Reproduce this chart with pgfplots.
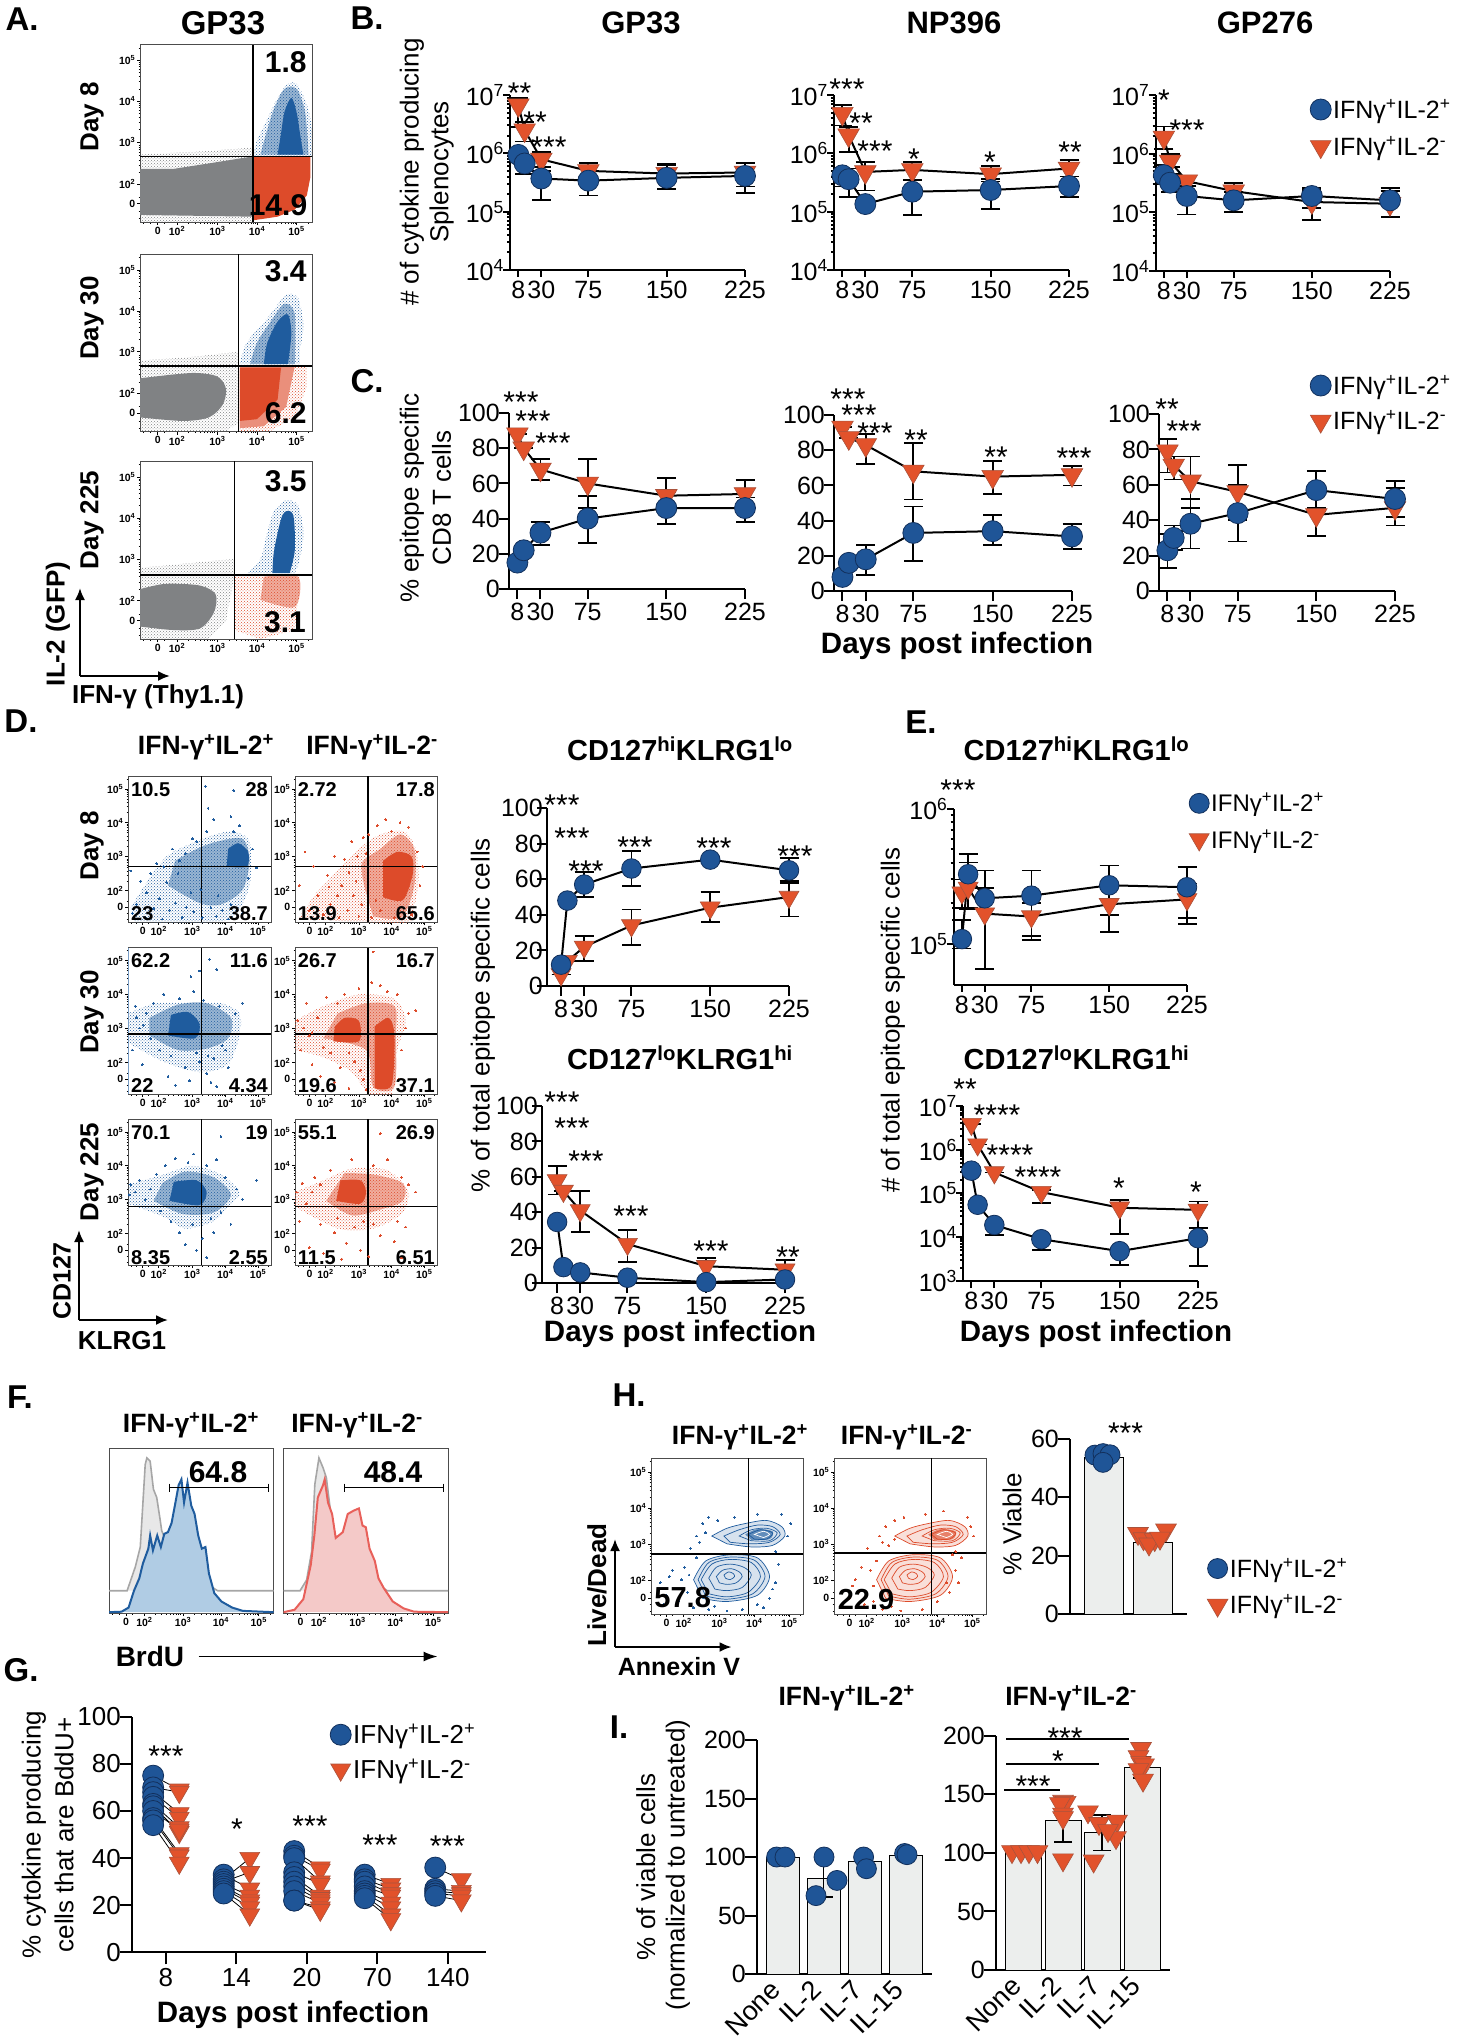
\documentclass[border=0pt]{standalone}
\usepackage{pgfplots}
\usepackage{pgfplotstable}
\usepackage{fontspec}
\pgfplotsset{compat=1.18}
\usetikzlibrary{patterns,arrows.meta}
\setmainfont{Liberation Sans}
\definecolor{bl}{HTML}{1F5597}
\definecolor{bld}{HTML}{12305C}
\definecolor{rd}{HTML}{E2522B}
\definecolor{rdd}{HTML}{A9523C}
\definecolor{fb}{HTML}{1F5C9E}
\definecolor{fr}{HTML}{DD4B2A}
\definecolor{fg}{HTML}{808284}
\definecolor{barf}{HTML}{ECEEED}
\definecolor{hb}{HTML}{B0CCE4}
\definecolor{hr}{HTML}{F4C9C8}
\definecolor{hrl}{HTML}{E8605A}
\newcommand\fs[1]{\fontsize{#1}{#1}\selectfont}
\pgfplotsset{
  box/.style n args={4}{at={(#1pt,-#4pt)},anchor=south west,scale only axis,
    width={(#3-#1)*1pt},height={(#4-#2)*1pt}},
  bm/.style={mark=*,mark size=#1pt,mark options={fill=bl,draw=bld,line width=.8pt,solid}},
  rm/.style={mark=triangle*,mark size=#1pt,mark options={rotate=180,fill=rd,draw=rdd,line width=.6pt,solid}},
  prism/.style={clip=false,axis x line*=bottom,axis y line*=left,axis line style={-,line width=2pt},
    tick style={line width=2pt,black},tick align=outside,major tick length=10pt,minor tick length=4pt,
    tick label style={font=\fs{25},inner sep=1pt},xticklabel style={yshift=-3pt},yticklabel style={xshift=2pt},
    /pgf/number format/assume math mode=true,xtick pos=bottom,ytick pos=left},
  dayx/.style={prism,xmax=225,xtick={8,30,75,150,225}},
  pct/.style={dayx,ymin=0,ymax=100,ytick={0,20,40,60,80,100}},
  logb/.style={dayx,ymin=1e4,ymax=1e7,ytick={1e4,1e5,1e6,1e7},
    yticklabels={10\textsuperscript{4},10\textsuperscript{5},10\textsuperscript{6},10\textsuperscript{7}},
    major tick length=7pt,minor tick length=3pt},
  flow/.style={xmin=0,xmax=100,ymin=0,ymax=100,axis line style={line width=.9pt,black!70},
    tick align=outside,major tick length=3pt,minor tick length=1.5pt,tick style={line width=.6pt,black},
    xtick pos=bottom,ytick pos=left,
    xtick={10.3,21.5,45,68,91},ytick={10.3,21.5,45,68,91},
    xticklabels={0,10\textsuperscript{2},10\textsuperscript{3},10\textsuperscript{4},10\textsuperscript{5}},
    yticklabels={0,10\textsuperscript{2},10\textsuperscript{3},10\textsuperscript{4},10\textsuperscript{5}},
    minor xtick={2,6,14,28,32,35,37.3,39.1,40.7,42,43.2,52,56,59,61.3,63.1,64.7,66,67,75,79.1,82,84.3,86.1,87.7,89,90,98},
    minor ytick={2,6,14,28,32,35,37.3,39.1,40.7,42,43.2,52,56,59,61.3,63.1,64.7,66,67,75,79.1,82,84.3,86.1,87.7,89,90,98},
    tick label style={font=\bfseries\fs{10.5},inner sep=1.5pt}},
  bars/.style={prism,xmin=0,ymin=0,major x tick style={draw=none}},
  rotx/.style={xticklabel style={rotate=45,anchor=north east,yshift=18pt,xshift=-1pt,font=\fs{27}}},
}
% scatter density layers: sparse stipple, textured middle, solid core, plain polygon, single dots
\newcommand\bS[2]{\addplot[smooth,pattern=crosshatch dots,pattern color=#1,draw=none] coordinates {#2} -- cycle;}
\newcommand\bM[2]{\addplot[smooth,fill=#1!45!white,draw=none] coordinates {#2} -- cycle;
  \addplot[smooth,pattern=crosshatch dots,pattern color=#1,draw=none] coordinates {#2} -- cycle;}
\newcommand\bC[2]{\addplot[smooth,fill=#1,draw=none] coordinates {#2} -- cycle;}
\newcommand\bP[2]{\addplot[fill=#1,draw=none] coordinates {#2} -- cycle;}
\newcommand\bQ[2]{\addplot[pattern=crosshatch dots,pattern color=#1,draw=none] coordinates {#2} -- cycle;}
\newcommand\pts[2]{\addplot[only marks,color=#1,mark=*,mark size=.9pt,mark options={draw=#1,fill=#1,line width=0pt}] coordinates {#2};}
\newcommand\ring[2]{\addplot[#1,smooth,line width=.7pt] coordinates {#2} -- cycle;}
% x0 y0 x1 y1 vertical horizontal content
\newcommand\flowplot[7]{\begin{axis}[flow,box={#1}{#2}{#3}{#4}]
#7
\addplot[black,line width=1.4pt] coordinates {(#5,0) (#5,100)};
\addplot[black,line width=1.4pt] coordinates {(0,#6) (100,#6)};
\end{axis}}
\newcommand\ser[3]{\addplot[black,line width=2pt,#1,error bars/.cd,y dir=both,y explicit,
  error bar style={line width=1.8pt,black},error mark options={rotate=90,mark size=#3pt,line width=1.8pt,black}]
  table[x=x,y=y,y error plus expr=\thisrow{hi}-\thisrow{y},y error minus expr=\thisrow{y}-\thisrow{lo}] {#2};}
\newcommand\lgd[6]{\begin{axis}[hide axis,scale only axis,width=1pt,height=1pt,at={(#1pt,-#2pt)},anchor=north west,
  xmin=0,xmax=1,ymin=0,ymax=1,legend cell align=left,
  legend style={at={(0,1)},anchor=north west,draw=none,fill=none,font=\fs{#3},inner sep=0pt,row sep=#4pt,
    /tikz/every even column/.append style={column sep=8pt}}]
\addlegendimage{only marks,bm=#5}\addlegendentry{IFNγ\textsuperscript{+}IL-2\textsuperscript{+}}
\addlegendimage{only marks,rm=#6}\addlegendentry{IFNγ\textsuperscript{+}IL-2\textsuperscript{-}}
\end{axis}}
\newcommand\tx[5][0]{\node[rotate=#1,font=\fs{#2},inner sep=0pt] at (#3pt,-#4pt) {#5};}
\newcommand\tb[5][0]{\node[rotate=#1,font=\bfseries\fs{#2},inner sep=0pt] at (#3pt,-#4pt) {#5};}
\newcommand\lft[4]{\node[anchor=west,font=\bfseries\fs{#1},inner sep=0pt] at (#2pt,-#3pt) {#4};}
\newcommand\rgt[4]{\node[anchor=east,font=\bfseries\fs{#1},inner sep=0pt] at (#2pt,-#3pt) {#4};}
\newcommand\st[3]{\node[anchor=base,font=\fs{30},inner sep=0pt] at (#1pt,{-(#2+17)*1pt}) {#3};}
\newcommand\corner[5]{\draw[line width=2pt,-{Latex[length=12pt,width=10pt]}] (#1pt,-#2pt) -- (#1pt,-#3pt);
  \draw[line width=2pt,-{Latex[length=12pt,width=10pt]}] (#1pt,-#2pt) -- (#4pt,-#2pt);}
% panel B
\pgfplotstableread[row sep=\\]{x y lo hi\\8 9.4e5 7.5e5 1.1e6\\14 6.7e5 4.4e5 9e5\\30 3.7e5 1.6e5 5.9e5\\75 3.4e5 1.9e5 5.9e5\\150 3.8e5 2.4e5 6.3e5\\225 4.1e5 2.1e5 6.7e5\\}\bAb
\pgfplotstableread[row sep=\\]{x y lo hi\\8 6.7e6 2.8e6 8.8e6\\14 2.5e6 1.6e6 3.4e6\\30 7.9e5 5e5 1.07e6\\75 5e5 4e5 6.9e5\\150 4.5e5 2.5e5 6.5e5\\225 4.7e5 2.7e5 6.8e5\\}\bAr
\pgfplotstableread[row sep=\\]{x y lo hi\\8 4.2e5 2.7e5 5.5e5\\14 3.6e5 1.8e5 5.5e5\\30 1.35e5 1.34e5 1.36e5\\75 2.2e5 8.7e4 3.5e5\\150 2.35e5 1.1e5 3.6e5\\225 2.75e5 1.8e5 4e5\\}\bBb
\pgfplotstableread[row sep=\\]{x y lo hi\\8 4.8e6 3e6 6.7e6\\14 2.05e6 1.04e6 2.8e6\\30 4.8e5 2.3e5 7e5\\75 5.2e5 3.5e5 7.2e5\\150 4.4e5 3.3e5 6e5\\225 5.5e5 4e5 7.8e5\\}\bBr
\pgfplotstableread[row sep=\\]{x y lo hi\\8 4.3e5 3e5 6.5e5\\14 3.2e5 2.2e5 4.5e5\\30 1.9e5 9.2e4 3.2e5\\75 1.6e5 1e5 2.2e5\\150 1.9e5 7.5e4 2.6e5\\225 1.6e5 8.3e4 2.6e5\\}\bCb
\pgfplotstableread[row sep=\\]{x y lo hi\\8 1.9e6 1.2e6 2.9e6\\14 7.4e5 6e5 1e6\\30 3.4e5 2.8e5 4e5\\75 2.3e5 1.4e5 3.2e5\\150 1.5e5 1.2e5 2.4e5\\225 1.4e5 8.5e4 2.3e5\\}\bCr
% panel C
\pgfplotstableread[row sep=\\]{x y lo hi\\8 15 15 15\\14 22 22 22\\30 32 25 38\\75 40 26 53\\150 46 37 55\\225 46 38 52\\}\cAb
\pgfplotstableread[row sep=\\]{x y lo hi\\8 88 88 88\\14 80 80 80\\30 68 62 74\\75 60 46 74\\150 53 46 63\\225 54 48 62\\}\cAr
\pgfplotstableread[row sep=\\]{x y lo hi\\8 8 8 8\\14 16 16 16\\30 18 9 26\\75 33 17 48\\150 34 26 43\\225 31 24 38\\}\cBb
\pgfplotstableread[row sep=\\]{x y lo hi\\8 93 93 93\\14 87 87 87\\30 83 72 89\\75 68 52 84\\150 65 55 74\\225 66 60 71\\}\cBr
\pgfplotstableread[row sep=\\]{x y lo hi\\8 23 13 32\\14 30 23 37\\30 38 24 52\\75 44 28 60\\150 57 45 68\\225 52 42 62\\}\cCb
\pgfplotstableread[row sep=\\]{x y lo hi\\8 79 67 86\\14 71 63 76\\30 62 47 76\\75 56 40 71\\150 43 31 47\\225 47 37 58\\}\cCr
% panels D and E
\pgfplotstableread[row sep=\\]{x y lo hi\\8 12 12 12\\14 48 48 48\\30 57 50 64\\75 66 56 76\\150 71 71 71\\225 65 58 72\\}\dAb
\pgfplotstableread[row sep=\\]{x y lo hi\\8 6.5 6.5 6.5\\14 14 14 14\\30 22 14 28\\75 34 23 43\\150 44 36 53\\225 50 39 59\\}\dAr
\pgfplotstableread[row sep=\\]{x y lo hi\\8 34.5 34.5 34.5\\14 9 9 9\\30 6 6 6\\75 3 3 3\\150 .5 .5 .5\\225 2 2 2\\}\dBb
\pgfplotstableread[row sep=\\]{x y lo hi\\8 58 50 66\\14 52 52 52\\30 41 29 52\\75 22 12 30\\150 9.5 1 14\\225 7.5 2 13\\}\dBr
\pgfplotstableread[row sep=\\]{x y lo hi\\8 1.09e5 9.3e4 1.5e5\\14 3.28e5 1.8e5 4.6e5\\30 2.18e5 1.8e5 3.5e5\\75 2.28e5 1.15e5 3.5e5\\150 2.72e5 1.65e5 3.8e5\\225 2.63e5 1.4e5 3.7e5\\}\eAb
\pgfplotstableread[row sep=\\]{x y lo hi\\8 2.4e5 1.85e5 3e5\\14 2.6e5 1.85e5 4e5\\30 1.68e5 6.6e4 2.6e5\\75 1.6e5 1.07e5 2e5\\150 1.97e5 1.23e5 2.7e5\\225 2.14e5 1.55e5 2.8e5\\}\eAr
\pgfplotstableread[row sep=\\]{x y lo hi\\8 3.3e5 3.3e5 3.3e5\\14 5.5e4 5.5e4 5.5e4\\30 1.9e4 1.1e4 2e4\\75 9e3 5e3 9.5e3\\150 4.8e3 2.3e3 5e3\\225 9.5e3 2.2e3 1.6e4\\}\eBb
\pgfplotstableread[row sep=\\]{x y lo hi\\8 3.8e6 3.8e6 3.8e6\\14 1.3e6 1.3e6 1.3e6\\30 3e5 3e5 3e5\\75 1.07e5 6e4 1.2e5\\150 4.7e4 1.2e4 7e4\\225 4.2e4 1.6e4 6.5e4\\}\eBr
% panel G: one row per pair
\pgfplotstableread[row sep=\\]{xb b xr r\\
-.18 75 .19 69\\-.18 70 .19 68\\-.18 68 .19 59\\-.18 66 .19 57\\-.18 63 .19 53\\-.18 62 .19 51\\-.18 60 .19 52\\-.18 57 .19 42\\-.18 56 .19 41\\-.18 54 .19 38\\
.82 33 1.19 27\\.82 31 1.19 40\\.82 30 1.19 34\\.82 29 1.19 24\\.82 28 1.19 22\\.82 27 1.19 21\\.82 26 1.19 19\\.82 25 1.19 16\\
1.82 43 2.19 36\\1.82 41 2.19 35\\1.82 40 2.19 30\\1.82 34 2.19 29\\1.82 32 2.19 24\\1.82 30 2.19 23\\1.82 28 2.19 22\\1.82 26 2.19 21\\1.82 22 2.19 19\\1.82 22 2.19 18\\
2.82 33 3.19 29\\2.82 31 3.19 27\\2.82 30 3.19 25\\2.82 28 3.19 24\\2.82 26 3.19 21\\2.82 25 3.19 19\\2.82 24 3.19 16\\2.82 23 3.19 14\\
3.82 36 4.19 31\\3.82 27 4.19 26\\3.82 26 4.19 25\\3.82 25 4.19 24\\3.82 24 4.19 22\\}\gTab
% contour rings of panel H
\newcommand\contours[1]{%
\bC{#1!18!white}{(28,22)(36,34)(52,38)(70,36)(78,24)(70,12)(50,8)(34,10)}
\ring{#1}{(28,22)(36,34)(52,38)(70,36)(78,24)(70,12)(50,8)(34,10)}
\ring{#1}{(31,22)(38,33)(52,36.5)(68,34.5)(75,24)(67,13)(50,9.5)(36,11.5)}
\ring{#1}{(33,22)(40,32)(52,35)(66,33)(72,24)(64,14)(50,11)(38,13)}
\ring{#1}{(38,23)(43,30)(52,32)(61,30)(66,25)(60,17)(50,15)(42,16)}
\ring{#1}{(43,24)(47,28)(53,29)(58,27)(60,24)(56,20)(50,19)(45,20)}
\ring{#1}{(48,25)(51,27)(54,26)(55,24)(52,22)(49,23)}
\bC{#1!18!white}{(40,50)(50,55)(62,58)(76,60)(86,56)(88,50)(80,44)(66,43)(50,45)}
\ring{#1}{(40,50)(50,55)(62,58)(76,60)(86,56)(88,50)(80,44)(66,43)(50,45)}
\ring{#1}{(48,50)(58,54)(70,57)(80,56)(85,51)(78,46)(65,45)(52,46)}
\ring{#1}{(58,50)(66,54)(76,55)(83,52)(78,47)(66,47)}
\bC{#1!70!white}{(62,51)(70,54.5)(80,53)(78,48)(66,47.5)}
\ring{#1}{(64,51)(72,54)(80,52)(76,48)(68,48)}
\ring{white}{(68,51)(74,53)(78,51)(74,49)}}
\begin{document}
\begin{tikzpicture}
\path[use as bounding box] (0,0) rectangle (1460pt,-2040pt);
% ---------- A
\tb{33}{22}{19}{A.}
\tb{33}{223}{23}{GP33}
\flowplot{140}{44.5}{312}{222}{65.8}{37}{
\bQ{fg}{(0,0)(66,0)(66,42)(40,40)(0,38)}
\bP{fg}{(0,4)(65,3)(65.8,37)(40,33)(20,30)(0,30)}
\bS{fb}{(66,37)(68,46)(74,58)(79,68)(85,77)(91,78)(97,66)(100,52)(100,37)}
\bM{fb}{(70,38)(74,52)(78,64)(84,75)(91,75)(96,62)(98,38)}
\bC{fb}{(80,38)(82,50)(84,62)(88,70)(91,62)(93,50)(95,38)}
\bP{fr}{(66,37)(99,37)(99,25)(97,15)(90,7)(80,3)(66,1)}
}
\flowplot{140}{254}{312}{431.6}{57.4}{37}{
\bQ{fg}{(0,0)(50,0)(57.4,5)(57.4,45)(30,42)(0,40)}
\bC{fg}{(0,8)(25,6)(40,8)(48,15)(50,24)(45,31)(30,33)(0,30)}
\bQ{fr}{(58,0)(75,0)(90,8)(97,25)(97,37)(58,37)}
\bP{fr!62!white}{(58,2)(72,3)(85,14)(90,37)(58,37)}
\bP{fr}{(58,6)(68,7)(80,18)(82,36)(58,36)}
\bS{fb}{(58,38)(62,50)(75,65)(85,77)(92,75)(95,60)(93,45)(93,38)}
\bM{fb}{(64,38)(68,50)(76,62)(84,72)(90,66)(90,38)}
\bC{fb}{(72,38)(74,50)(80,62)(86,66)(88,55)(86,38)}
}
\flowplot{140}{461}{312}{639}{55}{36}{
\bQ{fg}{(0,0)(40,0)(50,10)(55,36)(55,45)(0,40)}
\bC{fg}{(0,7)(20,5)(35,6)(43,15)(44,25)(35,30)(15,31)(0,28)}
\bQ{fr}{(55,5)(70,0)(90,5)(93,36)(55,36)}
\bM{fr}{(70,22)(90,18)(92,35)(72,35)}
\bS{fb}{(62,37)(70,45)(74,60)(78,72)(85,78)(92,75)(95,60)(93,45)(90,37)}
\bC{fb}{(77,37)(78,50)(83,70)(89,70)(90,50)(87,37)}
}
\tb{30}{285.7}{62}{1.8}\tb{30}{278}{205}{14.9}
\tb{30}{285.7}{271}{3.4}\tb{30}{285.7}{413}{6.2}
\tb{30}{285.7}{481}{3.5}\tb{30}{285}{622}{3.1}
\tb[90]{26}{92}{117}{Day 8}\tb[90]{26}{92}{318}{Day 30}\tb[90]{26}{92}{520}{Day 225}
\tb[90]{26}{58}{624}{IL-2 (GFP)}
\tb{26}{158}{697}{IFN-γ (Thy1.1)}
\corner{80}{676}{588}{170}{}
% ---------- B
\tb{33}{367}{18}{B.}
\tb{31}{641}{23}{GP33}\tb{31}{954}{23}{NP396}\tb{31}{1265}{23}{GP276}
\tx[90]{26}{412}{172}{\# of cytokine producing}
\tx[90]{26}{441.6}{172}{Splenocytes}
\begin{semilogyaxis}[logb,box={510}{95}{745}{270},xmin=0]
\ser{rm=12.5}{\bAr}{9.5}\ser{bm=10.5}{\bAb}{9.5}
\end{semilogyaxis}
\begin{semilogyaxis}[logb,box={834}{95}{1069}{270},xmin=0]
\ser{rm=12.5}{\bBr}{9.5}\ser{bm=10.5}{\bBb}{9.5}
\end{semilogyaxis}
\begin{semilogyaxis}[logb,box={1155.5}{95}{1390}{271},xmin=0]
\ser{rm=12.5}{\bCr}{9.5}\ser{bm=10.5}{\bCb}{9.5}
\end{semilogyaxis}
\st{519.5}{86}{**}\st{535}{115}{**}\st{549}{140}{***}
\st{847}{82}{***}\st{861}{116}{**}\st{875}{144}{***}\st{914}{152}{*}\st{990}{155}{*}\st{1070}{145}{**}
\st{1164}{93}{*}\st{1187}{123}{***}
\lgd{1310}{97}{25}{12.5}{10.5}{12}
% ---------- C
\tb{33}{367}{381}{C.}
\tx[90]{26}{412}{498}{\% epitope specific}
\tx[90]{26}{441.6}{498}{CD8 T cells}
\begin{axis}[pct,box={509}{413}{745}{589},xmin=0]
\ser{rm=12.5}{\cAr}{9.5}\ser{bm=10.5}{\cAb}{9.5}
\end{axis}
\begin{axis}[pct,box={834}{415}{1072}{591},xmin=0]
\ser{rm=12.5}{\cBr}{9.5}\ser{bm=10.5}{\cBb}{9.5}
\end{axis}
\begin{axis}[pct,box={1159}{414}{1395}{591},xmin=0]
\ser{rm=12.5}{\cCr}{9.5}\ser{bm=10.5}{\cCb}{9.5}
\end{axis}
\st{521}{395}{***}\st{533}{414}{***}\st{553}{436}{***}
\st{848}{392}{***}\st{859}{408}{***}\st{875}{426}{***}\st{916}{433}{**}\st{996}{450}{**}\st{1074}{451}{***}
\st{1167}{402}{**}\st{1184}{424}{***}
\lgd{1310}{373}{25}{11}{10.5}{12}
\tb{29.5}{957}{646}{Days post infection}
% ---------- D flow
\tb{33}{21}{721}{D.}
\tb{26.5}{206}{747}{IFN-γ\textsuperscript{+}IL-2\textsuperscript{+}}
\tb{26.5}{372}{747}{IFN-γ\textsuperscript{+}IL-2\textsuperscript{-}}
\tb[90]{26}{92}{846}{Day 8}\tb[90]{26}{92}{1012}{Day 30}\tb[90]{26}{92}{1172}{Day 225}
\flowplot{128}{776}{271}{922}{51.5}{38.2}{
\bS{fb}{(5,0)(60,0)(75,5)(85,25)(85,55)(72,62)(55,58)(40,52)(27,45)(15,30)(2,10)}
\bM{fb}{(28,25)(50,13)(65,12)(80,22)(85,42)(80,57)(62,55)(48,50)(33,42)}
\bC{fb}{(69,38)(83,38)(84,48)(77,54)(70,50)}
\pts{fb}{(2,35)(3,6)(6,12)(9,28)(12,3)(13,20)(16,33)(18,9)(22,16)(24,2)(27,27)(29,8)(33,13)(35,33)(38,3)(40,47)(44,20)(46,7)(48,55)(52,3)(55,62)(58,10)(60,70)(62,4)(66,8)(70,2)(72,12)(74,62)(78,66)(80,6)(84,30)(87,50)(45,57)(36,42)(20,40)(54,93)(74,90)(56,78)(72,72)(90,37)(41,10)(63,18)(51,22)(25,38)(31,50)}
}
\flowplot{295}{776}{437}{922}{51.5}{38.2}{
\bS{fr}{(2,2)(50,0)(80,0)(84,10)(87,30)(85,50)(77,62)(60,60)(45,50)(30,35)(15,20)}
\bM{fr}{(55,4)(75,3)(84,25)(84,50)(74,60)(60,50)(47,40)(50,20)}
\bC{fr}{(62,17)(76,15)(83,33)(82,45)(72,48)(62,42)}
\pts{fr}{(3,25)(7,48)(10,8)(13,38)(16,18)(20,5)(23,32)(25,12)(28,45)(31,3)(33,25)(37,8)(40,55)(43,28)(45,4)(48,58)(52,60)(54,3)(58,66)(60,8)(64,70)(68,62)(70,3)(74,68)(80,65)(82,5)(86,48)(88,25)(90,38)(35,43)(47,12)(57,15)(41,18)(38,34)(50,47)(44,45)(30,18)(24,24)}
}
\flowplot{128}{947.5}{271}{1094}{51.5}{41}{
\bS{fb}{(0,35)(25,22)(50,15)(70,20)(78,40)(78,55)(65,62)(45,62)(20,62)(0,55)}
\bM{fb}{(15,40)(35,30)(55,31)(70,38)(72,52)(55,62)(35,61)(15,52)}
\bC{fb}{(28,40)(47,38)(50,48)(42,56)(30,54)}
\bP{fb!60!white}{(0,0)(1,0)(1,100)(0,100)}
\pts{fb}{(3,30)(5,60)(8,45)(10,20)(13,55)(16,38)(18,62)(22,30)(25,68)(28,12)(30,26)(33,6)(36,65)(40,18)(43,9)(46,70)(50,22)(53,64)(55,14)(58,8)(60,24)(62,5)(64,60)(68,30)(70,18)(75,55)(80,62)(62,85)(50,84)(44,80)(57,92)(6,52)(11,47)(48,28)(56,26)(66,33)}
}
\flowplot{295}{947.5}{437}{1094}{51.5}{41}{
\bS{fr}{(0,30)(20,25)(40,15)(52,0)(68,0)(72,30)(78,50)(70,65)(45,68)(20,60)(0,50)}
\bM{fr}{(20,38)(50,30)(55,5)(70,5)(71,40)(70,60)(50,62)(30,55)}
\bC{fr}{(27,36)(45,36)(45,50)(35,52)(28,46)}
\bC{fr}{(56,4)(68,6)(70,40)(66,52)(56,46)}
\pts{fr}{(2,50)(4,30)(8,62)(10,40)(12,20)(16,52)(18,12)(22,66)(25,28)(28,8)(32,18)(35,68)(38,4)(42,22)(45,72)(48,10)(50,3)(54,76)(60,74)(65,70)(72,68)(75,30)(78,45)(80,55)(85,57)(73,10)(55,97)(12,42)(6,45)(20,32)(38,28)(46,16)(30,62)}
}
\flowplot{128}{1119}{271}{1265}{51.5}{40}{
\bS{fb}{(0,42)(25,33)(40,25)(60,30)(72,42)(78,50)(65,62)(45,68)(25,62)(0,55)}
\bM{fb}{(18,44)(38,35)(60,36)(72,48)(60,60)(40,64)(24,56)}
\bC{fb}{(29,44)(50,41)(55,50)(48,58)(32,57)}
\pts{fb}{(1,48)(2,55)(5,50)(8,58)(12,45)(16,52)(20,62)(23,37)(26,68)(30,30)(33,73)(36,22)(40,14)(42,70)(45,28)(48,10)(52,18)(55,68)(58,32)(60,22)(62,72)(65,36)(68,60)(72,28)(76,52)(80,45)(90,58)(55,5)(65,88)(46,76)}
}
\flowplot{295}{1119}{437}{1265}{51.5}{40}{
\bS{fr}{(0,40)(30,25)(55,25)(75,35)(80,50)(65,65)(40,66)(20,58)(0,50)}
\bM{fr}{(22,44)(40,34)(60,38)(76,44)(76,56)(55,62)(35,63)}
\bC{fr}{(29,44)(46,42)(50,50)(46,58)(32,58)}
\pts{fr}{(1,50)(3,30)(5,56)(8,42)(10,12)(14,60)(18,28)(20,8)(25,65)(28,22)(33,4)(36,15)(40,72)(42,26)(46,10)(48,30)(52,6)(55,68)(60,20)(65,72)(70,16)(72,30)(75,60)(78,26)(80,55)(60,90)(75,5)(85,50)(12,50)(18,55)(30,32)(55,28)}
}
\lft{20}{131}{790}{10.5}\rgt{20}{268}{790}{28}\lft{20}{131}{914}{23}\rgt{20}{268}{914}{38.7}
\lft{20}{297.7}{790}{2.72}\rgt{20}{435}{790}{17.8}\lft{20}{297.7}{914}{13.9}\rgt{20}{435}{914}{65.6}
\lft{20}{131}{961}{62.2}\rgt{20}{268}{961}{11.6}\lft{20}{131}{1086}{22}\rgt{20}{268}{1086}{4.34}
\lft{20}{297.7}{961}{26.7}\rgt{20}{435}{961}{16.7}\lft{20}{297.7}{1086}{19.6}\rgt{20}{435}{1086}{37.1}
\lft{20}{131}{1132.7}{70.1}\rgt{20}{268}{1132.7}{19}\lft{20}{131}{1257.6}{8.35}\rgt{20}{268}{1257.6}{2.55}
\lft{20}{297.7}{1132.7}{55.1}\rgt{20}{435}{1132.7}{26.9}\lft{20}{297.7}{1257.6}{11.5}\rgt{20}{435}{1257.6}{6.51}
\tb[90]{25}{62}{1281}{CD127}\tb{26}{122}{1341}{KLRG1}
\corner{79}{1320}{1230}{168}{}
% ---------- D, E time courses
\tb{29}{680}{749}{CD127\textsuperscript{hi}KLRG1\textsuperscript{lo}}
\tb{29}{680}{1058}{CD127\textsuperscript{lo}KLRG1\textsuperscript{hi}}
\tx[90]{26}{483}{1015}{\% of total epitope specific cells}
\begin{axis}[pct,box={547}{808}{789}{986},xmin=-5.4,yticklabel style={xshift=5pt}]
\ser{rm=11.5}{\dAr}{9.5}\ser{bm=9.8}{\dAb}{9.5}
\end{axis}
\begin{axis}[pct,box={542}{1106}{785}{1283},xmin=-6.4,yticklabel style={xshift=5pt}]
\ser{rm=11.5}{\dBr}{9.5}\ser{bm=9.8}{\dBb}{9.5}
\end{axis}
\st{562}{798}{***}\st{572}{831}{***}\st{586}{864}{***}\st{635}{840}{***}\st{714}{841}{***}\st{795}{849}{***}
\st{562}{1095.5}{***}\st{572}{1121}{***}\st{586}{1154}{***}\st{631}{1209}{***}\st{711}{1244}{***}\st{788}{1250}{**}
\tb{29.5}{680}{1334}{Days post infection}
\tb{33}{921}{722}{E.}
\tb{29}{1076.5}{749}{CD127\textsuperscript{hi}KLRG1\textsuperscript{lo}}
\tb{29}{1076.5}{1058}{CD127\textsuperscript{lo}KLRG1\textsuperscript{hi}}
\tx[90]{26}{893}{1020}{\# of total epitope specific cells}
\begin{semilogyaxis}[dayx,box={953.6}{808.6}{1187}{985},xmin=0,ymin=5e4,ymax=1e6,
  ytick={1e5,1e6},yticklabels={10\textsuperscript{5},10\textsuperscript{6}},major tick length=7pt,minor tick length=3pt]
\ser{rm=11.5}{\eAr}{9.5}\ser{bm=9.8}{\eAb}{9.5}
\end{semilogyaxis}
\begin{semilogyaxis}[dayx,box={963}{1105.7}{1198}{1281},xmin=0,ymin=1e3,ymax=1e7,
  ytick={1e3,1e4,1e5,1e6,1e7},yticklabels={10\textsuperscript{3},10\textsuperscript{4},10\textsuperscript{5},10\textsuperscript{6},10\textsuperscript{7}},
  major tick length=7pt,minor tick length=3pt]
\ser{rm=11.5}{\eBr}{9.5}\ser{bm=9.8}{\eBb}{9.5}
\end{semilogyaxis}
\st{958}{783}{***}
\st{965}{1082}{**}\st{997}{1108.6}{****}\st{1010}{1148}{****}\st{1038}{1170}{****}\st{1119}{1181}{*}\st{1196}{1185}{*}
\lgd{1189}{791}{24}{12}{10}{11.5}
\tb{29.5}{1096}{1334}{Days post infection}
% ---------- F
\tb{33}{20}{1397}{F.}
\tb{26.5}{191}{1425}{IFN-γ\textsuperscript{+}IL-2\textsuperscript{+}}
\tb{26.5}{357}{1425}{IFN-γ\textsuperscript{+}IL-2\textsuperscript{-}}
\begin{axis}[flow,box={109}{1448}{273.6}{1613},ytick=\empty,minor ytick=\empty]
\addplot[fill=black!9,draw=black!35,line width=1.6pt] coordinates {(0,13.5)(11,13.5)(16,28)(19,40)(22,90)(23,94)(25,92)(27,75)(29,70)(31,57)(32,50)(40,30)(66,13.5)(100,13.5)};
\addplot[fill=hb,draw=fb,line width=2pt] coordinates {(0,.5)(7.6,.8)(11.9,3.3)(15.2,13.6)(18.4,21)(20.6,30)(23.9,39)(25,47)(26.7,38)(29.3,47)(31.5,40)(33.6,48)(35.8,49)(38,54.5)(40,65)(42.3,77.5)(44,81)(45.6,67)(47.7,79)(50,65)(52,60)(54.2,47)(56.4,39)(58.6,40)(60.7,24)(64,12)(68.3,7)(74.8,3.3)(81.3,1.3)(100,.5)};
\addplot[black,line width=1pt,mark=|,mark size=4pt] coordinates {(37,76)(97,76)};
\end{axis}
\begin{axis}[flow,box={283.6}{1448}{448}{1613},ytick=\empty,minor ytick=\empty]
\addplot[fill=black!9,draw=black!35,line width=1.6pt] coordinates {(0,13.5)(10,13.5)(14,20)(17,37)(19,78)(21.5,94)(24,88)(26,82)(30,50)(40,30)(63,13.5)(100,13.5)};
\addplot[fill=hr,draw=hrl,line width=2pt] coordinates {(0,.5)(6.7,2)(12,8.4)(16.5,29)(18.7,47)(20.8,70)(24,77.5)(25,81)(27,67)(29.5,60)(31.7,45.5)(36,49)(39,60)(42.5,62)(45.8,63.4)(48,53)(50,52)(52.3,39)(55.5,31.5)(57.7,21)(61,15)(66.4,7)(73,2.8)(79.4,.8)(100,.5)};
\addplot[black,line width=1pt,mark=|,mark size=4pt] coordinates {(37,76)(97,76)};
\end{axis}
\tb{30}{218}{1472.6}{64.8}\tb{30}{393}{1472.6}{48.4}
\tb{28}{150}{1656.5}{BrdU}
\draw[line width=1.6pt,-{Latex[length=14pt,width=10pt]}] (198.6pt,-1656.5pt) -- (437.5pt,-1656.5pt);
% ---------- G
\tb{33}{21}{1670}{G.}
\tx[90]{26}{34}{1834.5}{\% cytokine producing}
\tx[90]{26}{64}{1835}{cells that are BddU+}
\begin{axis}[prism,box={132}{1716.7}{486}{1952.4},xmin=-.48,xmax=4.54,ymin=0,ymax=100,ytick={0,20,40,60,80,100},
  xtick={0,1,2,3,4},xticklabels={8,14,20,70,140},major tick length=12pt,tick label style={font=\fs{26}}]
\addplot[only marks,bm=10.5] table[x=xb,y=b] {\gTab};
\addplot[only marks,rm=11.5] table[x=xr,y=r] {\gTab};
\addplot[black,line width=.8pt,quiver={u=\thisrow{xr}-\thisrow{xb},v=\thisrow{r}-\thisrow{b}}] table[x=xb,y=b] {\gTab};
\end{axis}
\st{166}{1749}{***}\st{237}{1822}{*}\st{310}{1819}{***}\st{380}{1838}{***}\st{447.5}{1839}{***}
\lgd{330}{1722}{26}{10}{10.5}{11.5}
\tb{29.5}{293}{2014.7}{Days post infection}
% ---------- H
\tb{33}{629}{1395}{H.}
\tb{26.5}{740}{1437}{IFN-γ\textsuperscript{+}IL-2\textsuperscript{+}}
\tb{26.5}{906.6}{1437}{IFN-γ\textsuperscript{+}IL-2\textsuperscript{-}}
\flowplot{651}{1458}{803}{1614}{64}{38.5}{
\contours{fb}
\pts{fb}{(6,20)(10,12)(14,28)(18,8)(22,30)(26,42)(30,50)(34,58)(38,62)(24,14)(28,4)(38,3)(50,2)(60,3)(70,6)(78,10)(82,20)(84,32)(90,50)(92,58)(86,64)(70,64)(55,62)(44,60)(32,46)(16,16)(12,24)(8,6)(20,22)(82,40)(25,25)(30,36)(36,52)(80,16)(74,4)(42,5)}
}
\flowplot{834}{1458}{986}{1614}{64}{39}{
\contours{fr}
\pts{fr}{(10,10)(14,22)(18,30)(22,42)(26,18)(30,50)(34,56)(40,60)(46,62)(20,6)(32,3)(44,2)(58,3)(68,8)(76,14)(80,28)(84,36)(78,38)(90,56)(88,62)(72,66)(60,64)(36,44)(24,28)(16,14)(28,34)(12,18)(74,20)(80,40)(40,48)(32,46)(82,20)(26,8)(38,5)(92,50)}
}
\tb{29}{682.7}{1597.6}{57.8}\tb{29}{866}{1599}{22.9}
\tb[90]{26}{597}{1585}{Live/Dead}\tb{25}{679}{1667}{Annexin V}
\corner{615}{1647}{1539}{731.5}{}
\tx[90]{26}{1012}{1524}{\% Viable}
\begin{axis}[bars,box={1070}{1439}{1187}{1614},xmax=117,ymax=60,ytick={0,20,40,60},xtick=\empty,major tick length=12pt]
\addplot[ybar,bar width=39pt,bar shift=0pt,fill=barf,draw=black,line width=1pt] coordinates {(33.5,53.5)(83,24.4)};
\addplot[only marks,rm=12] coordinates {(68,27.6)(96,28.8)(73.5,25.8)(84.7,25.5)(79,24)(90,26)};
\addplot[only marks,bm=10] coordinates {(25,54.5)(33,55)(40,54.6)(33,52)};
\end{axis}
\st{1125.5}{1426}{***}
\lgd{1207}{1556}{25}{12}{10}{12}
% ---------- I
\tb{33}{619}{1727}{I.}
\tb{26.5}{846.6}{1698}{IFN-γ\textsuperscript{+}IL-2\textsuperscript{+}}
\tb{26.5}{1071}{1698}{IFN-γ\textsuperscript{+}IL-2\textsuperscript{-}}
\tx[90]{26}{645.7}{1867}{\% of viable cells}
\tx[90]{26}{678}{1865}{(normalized to untreated)}
\begin{axis}[bars,rotx,box={757}{1740}{932}{1974},xmax=175,ymax=200,ytick={0,50,100,150,200},
  xtick={25.5,66.5,107.5,148.5},xticklabels={None,IL-2,IL-7,IL-15},major tick length=12pt]
\addplot[ybar,bar width=33pt,bar shift=0pt,fill=barf,draw=black,line width=1pt] coordinates {(25.5,100)(66.5,82)(107.5,96)(148.5,101)};
\addplot[only marks,bm=10] coordinates {(19.6,100)(28,100)(67,100)(80,80)(59,67)(106.6,100)(109.4,90)(147.6,103)(150,102)};
\addplot[draw=none,error bars/.cd,y dir=both,y explicit,error bar style={line width=1.8pt,black},error mark options={rotate=90,mark size=9pt,line width=1.8pt,black}]
  coordinates {(66.5,82)+-(0,16.5)(107.5,95)+-(0,5)(148.5,101.5)+-(0,.8)};
\end{axis}
\begin{axis}[bars,rotx,box={996}{1735.6}{1170}{1970},xmax=174,ymax=200,ytick={0,50,100,150,200},
  xtick={27,67,106,146},xticklabels={None,IL-2,IL-7,IL-15},major tick length=12pt]
\addplot[ybar,bar width=36pt,bar shift=0pt,fill=barf,draw=black,line width=1pt] coordinates {(27,100)(67,128)(106,117)(146,173)};
\addplot[only marks,rm=12] coordinates {(16,101)(25,101)(33,101)(41.5,101)(67,144)(69.6,143)(64,142)(67,133)(67,130)(67,94)(92,135)(103,125)(121,127)(120,113)(112,119)(97.6,93)(145,189)(142.5,182)(145,177)(148,175)(142.5,171)(147,162)};
\addplot[draw=none,error bars/.cd,y dir=both,y explicit,error bar style={line width=1.8pt,black},error mark options={rotate=90,mark size=9pt,line width=1.8pt,black}]
  coordinates {(67,127.5)+-(0,18.5)(106,117)+-(0,15)(146,173)+-(0,9)};
\addplot[black,line width=2pt] coordinates {(10,197.5)(133,197.5)};
\addplot[black,line width=2pt] coordinates {(10,176)(103,176)};
\addplot[black,line width=2pt] coordinates {(8,154)(64,154)};
\end{axis}
\st{1065}{1731.4}{***}\st{1058}{1754}{*}\st{1033}{1779}{***}
\end{tikzpicture}
\end{document}
